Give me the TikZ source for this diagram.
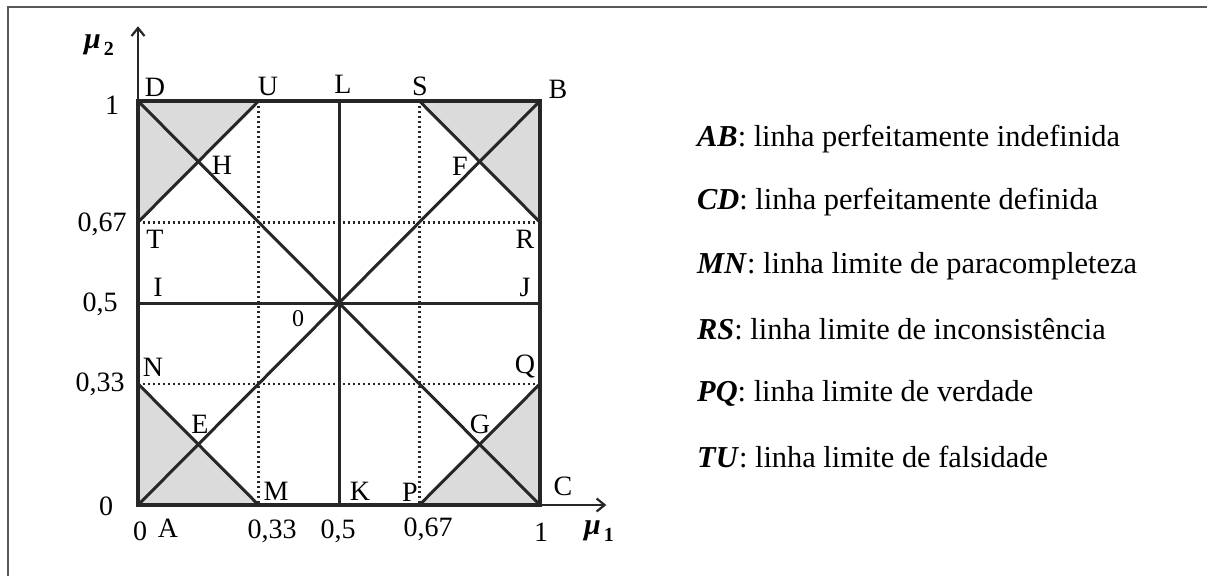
\documentclass[tikz,border=0pt]{standalone}
\usepackage{fontspec}
\setmainfont{Liberation Serif}
\usetikzlibrary{arrows.meta}
\newcommand{\mulabel}[1]{{\bfseries\itshape μ}\hspace{3pt}\raisebox{-7pt}{\fontsize{20}{22}\selectfont\bfseries #1}}
\begin{document}
\begin{tikzpicture}[x=1pt,y=-1pt,
  lbl/.style={font=\fontsize{28}{30}\selectfont, inner sep=0pt},
  small lbl/.style={font=\fontsize{24}{26}\selectfont, inner sep=0pt},
  mu lbl/.style={font=\fontsize{30}{32}\selectfont, inner sep=0pt},
  leg/.style={font=\fontsize{30.4}{33}\selectfont, inner sep=0pt, anchor=west},
  border line/.style={line width=3.6pt, black!85},
  main line/.style={line width=3pt, black!85},
  dots/.style={line width=2.6pt, dash pattern=on 2.4pt off 2.6pt, black!85},
  shade/.style={fill=black!14},
  axis/.style={line width=2.4pt, black!85, -{Straight Barb[length=8pt,width=13pt,line width=2.2pt]}},
]
\useasboundingbox (0,0) rectangle (1207,576);
\draw[line width=2pt, black!65] (7.5,576) -- (7.5,6.5) -- (1207,6.5);
\begin{scope}[shift={(138,505)}, x=402pt, y=404pt]
  \coordinate (A) at (0,0);   \coordinate (B) at (1,1);
  \coordinate (C) at (1,0);   \coordinate (D) at (0,1);
  \coordinate (U) at (0.3,1); \coordinate (L) at (0.5,1); \coordinate (S) at (0.7,1);
  \coordinate (T) at (0,0.7); \coordinate (R) at (1,0.7);
  \coordinate (I) at (0,0.5); \coordinate (J) at (1,0.5);
  \coordinate (N) at (0,0.3); \coordinate (Q) at (1,0.3);
  \coordinate (M) at (0.3,0); \coordinate (K) at (0.5,0); \coordinate (P) at (0.7,0);
  \coordinate (xend) at (1.165,0);
  \coordinate (yend) at (0,1.185);
  % shaded corner triangles
  \fill[shade] (D) -- (U) -- (T) -- cycle;
  \fill[shade] (S) -- (B) -- (R) -- cycle;
  \fill[shade] (A) -- (M) -- (N) -- cycle;
  \fill[shade] (P) -- (C) -- (Q) -- cycle;
  % dotted limit lines
  \draw[dots] (U) -- (M);
  \draw[dots] (S) -- (P);
  \draw[dots] (T) -- (R);
  \draw[dots] (N) -- (Q);
  % solid lines
  \draw[main line] (I) -- (J);
  \draw[main line] (L) -- (K);
  \draw[main line] (A) -- (B);
  \draw[main line] (D) -- (C);
  \draw[main line] (T) -- (U);
  \draw[main line] (S) -- (R);
  \draw[main line] (N) -- (M);
  \draw[main line] (P) -- (Q);
  \draw[border line] (A) -- (C) -- (B) -- (D) -- cycle;
  % axes
  \draw[axis] (A) -- (xend);
  \draw[axis] (A) -- (yend);
\end{scope}
% axis labels
\node[mu lbl] (mu2) at (99,45) {\mulabel{2}};
\node[mu lbl] (mu1) at (599,531) {\mulabel{1}};
% point labels
\node[lbl] (tD) at (155,87) {D};
\node[lbl] (tU) at (268,86) {U};
\node[lbl] (tL) at (343,84) {L};
\node[lbl] (tS) at (420,86) {S};
\node[lbl] (tB) at (558,89) {B};
\node[lbl] (tH) at (222,165) {H};
\node[lbl] (tF) at (460,166) {F};
\node[lbl] (tT) at (155,239) {T};
\node[lbl] (tR) at (525,239) {R};
\node[lbl] (tI) at (158,287) {I};
\node[lbl] (tJ) at (525,287) {J};
\node[small lbl] (tO) at (298,319) {0};
\node[lbl] (tN) at (153,367) {N};
\node[lbl] (tQ) at (525,366) {Q};
\node[lbl] (tE) at (200,424) {E};
\node[lbl] (tG) at (480,424) {G};
\node[lbl] (tM) at (276,491) {M};
\node[lbl] (tK) at (360,491) {K};
\node[lbl] (tP) at (410,492) {P};
\node[lbl] (tC) at (563,486) {C};
\node[lbl] (tA) at (168,528) {A};
% scale labels
\node[lbl] (y1) at (112,105) {1};
\node[lbl] (y067) at (102,224) {0,67};
\node[lbl] (y05) at (100,304) {0,5};
\node[lbl] (y033) at (100,384) {0,33};
\node[lbl] (y0) at (106,506) {0};
\node[lbl] (x0) at (140,531) {0};
\node[lbl] (x033) at (272,531) {0,33};
\node[lbl] (x05) at (338,531) {0,5};
\node[lbl] (x067) at (428,529) {0,67};
\node[lbl] (x1) at (541,532) {1};
% legend
\node[leg] (g1) at (697,139) {\textbf{\textit{AB}}: linha perfeitamente indefinida};
\node[leg] (g2) at (697,202) {\textbf{\textit{CD}}: linha perfeitamente definida};
\node[leg] (g3) at (697,266) {\textbf{\textit{MN}}: linha limite de paracompleteza};
\node[leg] (g4) at (697,329) {\textbf{\textit{RS}}: linha limite de inconsistência};
\node[leg] (g5) at (697,393) {\textbf{\textit{PQ}}: linha limite de verdade};
\node[leg] (g6) at (697,457) {\textbf{\textit{TU}}: linha limite de falsidade};
\end{tikzpicture}
\end{document}
